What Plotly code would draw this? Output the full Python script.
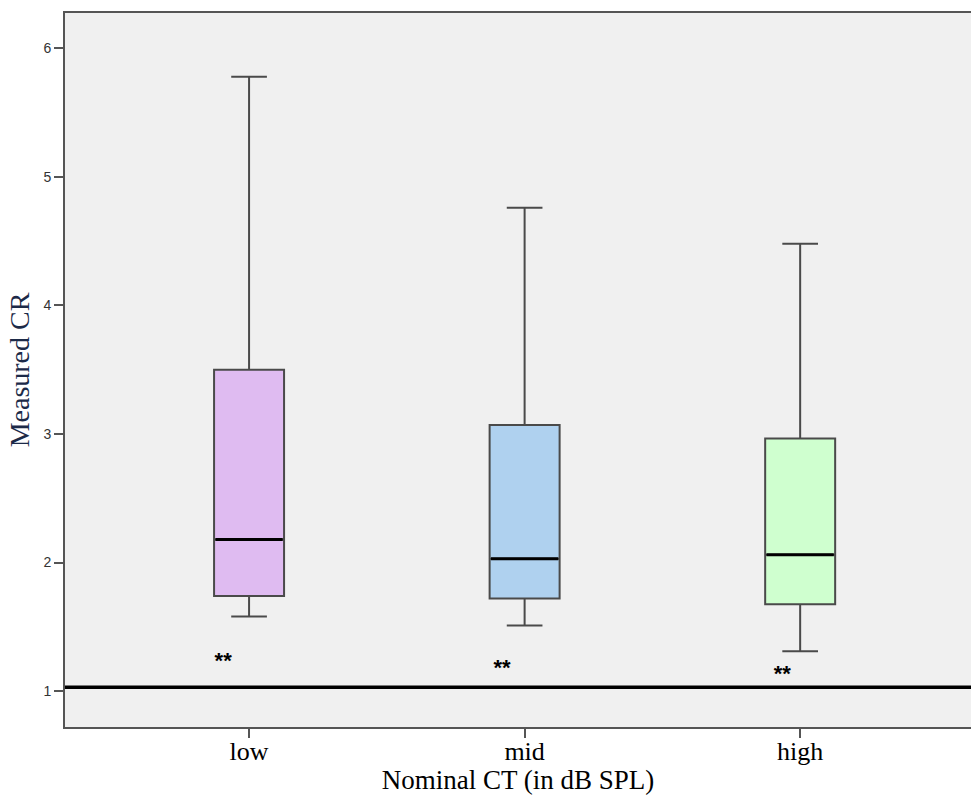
import plotly.graph_objects as go

categories = ["low", "mid", "high"]
lower_whisker = [1.58, 1.51, 1.31]
q1 = [1.74, 1.72, 1.675]
median = [2.18, 2.03, 2.06]
q3 = [3.50, 3.07, 2.965]
upper_whisker = [5.78, 4.76, 4.48]
fill_colors = ["#DFBBF1", "#AFD1EF", "#CFFFCF"]

sig_text = ["**", "**", "**"]
sig_x_offset = [-0.094, -0.082, -0.065]
sig_y = [1.22, 1.165, 1.12]

reference_value = 1.03
y_ticks = [1, 2, 3, 4, 5, 6]

box_width = 0.254
xpos = list(range(len(categories)))

fig = go.Figure()
for i, cat in enumerate(categories):
    fig.add_trace(go.Box(
        x=[xpos[i]], q1=[q1[i]], median=[median[i]], q3=[q3[i]],
        lowerfence=[lower_whisker[i]], upperfence=[upper_whisker[i]],
        width=box_width, whiskerwidth=0.51,
        fillcolor=fill_colors[i],
        line=dict(color="#4a4a4a", width=2),
        boxpoints=False, showlegend=False, name=cat, hoverinfo="skip",
    ))
    fig.add_trace(go.Scatter(
        x=[xpos[i] - box_width / 2 + 0.005, xpos[i] + box_width / 2 - 0.005],
        y=[median[i], median[i]], mode="lines",
        line=dict(color="black", width=3), showlegend=False, hoverinfo="skip",
    ))

fig.add_trace(go.Scatter(
    x=[xpos[i] + sig_x_offset[i] for i in range(len(categories))],
    y=sig_y, mode="text", text=["<b>" + t + "</b>" for t in sig_text],
    textfont=dict(family="Liberation Sans", size=22, color="black"),
    textposition="middle center", showlegend=False, hoverinfo="skip",
))

fig.add_shape(type="line", xref="paper", x0=0, x1=1, yref="y",
              y0=reference_value, y1=reference_value,
              line=dict(color="black", width=3.5), layer="above")

fig.update_layout(
    width=971, height=795,
    margin=dict(l=65, r=0, t=13, b=68),
    paper_bgcolor="white", plot_bgcolor="#F0F0F0",
    xaxis=dict(
        range=[-0.668, 2.62], tickvals=xpos, ticktext=categories,
        showgrid=False, zeroline=False, showline=True, linecolor="#555555",
        linewidth=2, mirror=True, ticks="outside", ticklen=9, tickwidth=2,
        tickcolor="#555555", ticklabelstandoff=-9,
        tickfont=dict(family="Liberation Serif", size=26, color="black"),
        title=dict(text="Nominal CT (in dB SPL)", standoff=0,
                   font=dict(family="Liberation Serif", size=27, color="black")),
    ),
    yaxis=dict(
        range=[0.72, 6.276], tickvals=y_ticks,
        showgrid=False, zeroline=False, showline=True, linecolor="#555555",
        linewidth=2, ticks="outside", ticklen=9, tickwidth=2, tickcolor="#555555",
        tickfont=dict(family="Arial, Liberation Sans", size=14, color="#333333"),
        title=dict(text="Measured CR", standoff=6,
                   font=dict(family="Liberation Serif", size=28, color="#1c2a48")),
    ),
)

fig.write_html("out.html")
